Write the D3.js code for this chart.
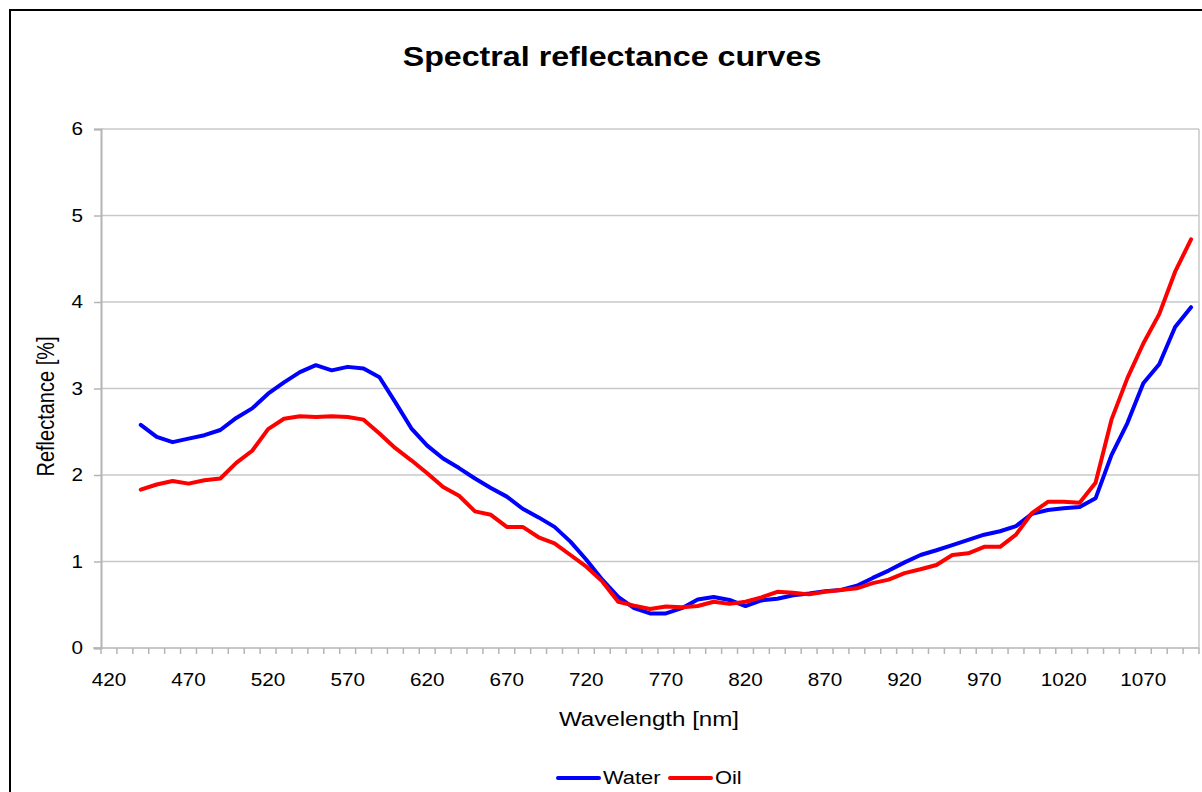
<!DOCTYPE html>
<html>
<head>
<meta charset="utf-8">
<script src="https://cdn.jsdelivr.net/npm/d3@7"></script>
<style>
  body { margin: 0; background: #fff; }
  svg { display: block; font-family: "Liberation Sans", Arial, sans-serif; }
</style>
</head>
<body>
<div class="chart"></div>
<script>
// category axis (wavelength, nm)
const categories = [420, 430, 440, 450, 460, 470, 480, 490, 500, 510, 520, 530, 540, 550, 560, 570, 580, 590,
    600, 610, 620, 630, 640, 650, 660, 670, 680, 690, 700, 710, 720, 730, 740, 750, 760, 770, 780, 790,
    800, 810, 820, 830, 840, 850, 860, 870, 880, 890, 900, 910, 920, 930, 940, 950, 960, 970, 980, 990,
    1000, 1010, 1020, 1030, 1040, 1050, 1060, 1070, 1080, 1090, 1100];
const xTickLabels = [420, 470, 520, 570, 620, 670, 720, 770, 820, 870, 920, 970, 1020, 1070];
const yTicks = [0, 1, 2, 3, 4, 5, 6];

// measured wavelengths
const wavelength = [440, 450, 460, 470, 480, 490, 500, 510, 520, 530, 540, 550, 560, 570, 580, 590,
    600, 610, 620, 630, 640, 650, 660, 670, 680, 690, 700, 710, 720, 730, 740, 750, 760, 770, 780, 790,
    800, 810, 820, 830, 840, 850, 860, 870, 880, 890, 900, 910, 920, 930, 940, 950, 960, 970, 980, 990,
    1000, 1010, 1020, 1030, 1040, 1050, 1060, 1070, 1080, 1090, 1100];

const water = [2.58, 2.44, 2.38, 2.42, 2.46, 2.52, 2.66, 2.77, 2.94, 3.07, 3.19, 3.27, 3.21, 3.25, 3.23, 3.13,
    2.84, 2.54, 2.34, 2.19, 2.08, 1.96, 1.85, 1.75, 1.61, 1.51, 1.40, 1.23, 1.02, 0.79, 0.59, 0.46, 0.40, 0.40, 0.46, 0.56,
    0.59, 0.555, 0.485, 0.55, 0.57, 0.61, 0.63, 0.655, 0.67, 0.72, 0.81, 0.895, 0.99, 1.075, 1.13, 1.19, 1.25, 1.31, 1.35, 1.41,
    1.55, 1.595, 1.615, 1.63, 1.73, 2.23, 2.60, 3.06, 3.28, 3.71, 3.94];

const oil = [1.83, 1.89, 1.93, 1.90, 1.94, 1.96, 2.14, 2.28, 2.53, 2.65, 2.68, 2.67, 2.68, 2.67, 2.64, 2.48,
    2.31, 2.17, 2.02, 1.86, 1.76, 1.58, 1.54, 1.40, 1.40, 1.28, 1.21, 1.075, 0.94, 0.77, 0.535, 0.49, 0.45, 0.48, 0.47, 0.485,
    0.535, 0.51, 0.535, 0.585, 0.65, 0.64, 0.62, 0.65, 0.67, 0.69, 0.75, 0.79, 0.865, 0.91, 0.96, 1.075, 1.095, 1.17, 1.17, 1.31,
    1.56, 1.69, 1.69, 1.68, 1.91, 2.64, 3.12, 3.52, 3.86, 4.35, 4.725];

const seriesNames = ["Water", "Oil"];
const seriesColors = ["#0000ff", "#ff0000"];

const W = 1202, H = 792;
const plot = {left: 101, right: 1199, top: 129, bottom: 648};
// the original picture is a little wider than tall, text looks stretched
const sx = 1.15;

const svg = d3.select(".chart").append("svg")
    .attr("width", W)
    .attr("height", H);

// outer chart frame
svg.append("rect")
    .attr("x", 10).attr("y", 10)
    .attr("width", W + 20).attr("height", H + 20)
    .attr("fill", "#fff")
    .attr("stroke", "#000")
    .attr("stroke-width", 2);

const x = d3.scaleBand()
    .domain(categories)
    .range([plot.left, plot.right])
    .padding(0);

const y = d3.scaleLinear()
    .domain([0, 6])
    .range([plot.bottom, plot.top]);

// horizontal gridlines
svg.append("g")
    .selectAll("line")
    .data(yTicks.filter(d => d > 0))
    .join("line")
    .attr("x1", plot.left).attr("x2", plot.right)
    .attr("y1", d => y(d)).attr("y2", d => y(d))
    .attr("stroke", "#c8c8c8")
    .attr("stroke-width", 1.5);

// right border of plot area
svg.append("line")
    .attr("x1", plot.right).attr("x2", plot.right)
    .attr("y1", plot.top).attr("y2", plot.bottom)
    .attr("stroke", "#c8c8c8")
    .attr("stroke-width", 1.5);

// y axis
const yAxis = d3.axisLeft(y).tickValues(yTicks).tickSize(7).tickPadding(11).tickFormat(d3.format("d"));
svg.append("g")
    .attr("transform", `translate(${plot.left},0)`)
    .call(yAxis)
    .call(g => g.select(".domain").attr("stroke", "#b4b4b4").attr("stroke-width", 2))
    .call(g => g.selectAll(".tick line").attr("stroke", "#b4b4b4").attr("stroke-width", 1.5))
    .call(g => g.selectAll(".tick text")
        .attr("font-size", 18)
        .attr("font-family", "Liberation Sans, Arial, sans-serif")
        .attr("fill", "#000")
        .call(stretch));

// x axis: line, tick marks at category boundaries, labels every 5th category
const xg = svg.append("g");
xg.append("line")
    .attr("x1", plot.left - 8).attr("x2", plot.right)
    .attr("y1", plot.bottom).attr("y2", plot.bottom)
    .attr("stroke", "#b4b4b4")
    .attr("stroke-width", 1.5);

xg.selectAll(".xtick")
    .data(categories.concat(["end"]))
    .join("line")
    .attr("class", "xtick")
    .attr("x1", d => d === "end" ? plot.right : x(d))
    .attr("x2", d => d === "end" ? plot.right : x(d))
    .attr("y1", plot.bottom)
    .attr("y2", plot.bottom + 6)
    .attr("stroke", "#b4b4b4")
    .attr("stroke-width", 1.5);

xg.selectAll(".xlabel")
    .data(xTickLabels)
    .join("text")
    .attr("class", "xlabel")
    .attr("x", d => x(d) + x.bandwidth() / 2)
    .attr("y", plot.bottom + 38)
    .attr("text-anchor", "middle")
    .attr("font-size", 18)
    .attr("fill", "#000")
    .text(d => d)
    .call(stretch);

// lines
const series = [water, oil];
const line = d3.line()
    .x((d, i) => x(wavelength[i]) + x.bandwidth() / 2)
    .y(d => y(d));

svg.append("g")
    .selectAll("path")
    .data(series)
    .join("path")
    .attr("fill", "none")
    .attr("stroke", (d, i) => seriesColors[i])
    .attr("stroke-width", 4)
    .attr("stroke-linejoin", "round")
    .attr("stroke-linecap", "round")
    .attr("d", line);

// title
svg.append("text")
    .attr("x", 612)
    .attr("y", 66)
    .attr("text-anchor", "middle")
    .attr("font-size", 28)
    .attr("font-weight", "bold")
    .text("Spectral reflectance curves")
    .call(stretch);

// axis titles
svg.append("text")
    .attr("x", 649)
    .attr("y", 726)
    .attr("text-anchor", "middle")
    .attr("font-size", 21)
    .text("Wavelength [nm]")
    .call(stretch);

svg.append("text")
    .attr("transform", `translate(54, ${(plot.top + plot.bottom) / 2 + 18}) scale(${sx},1) rotate(-90)`)
    .attr("text-anchor", "middle")
    .attr("font-size", 20)
    .text("Reflectance [%]");

// legend
const legendX = [558, 670];
const legend = svg.append("g")
    .selectAll("g")
    .data(seriesNames)
    .join("g")
    .attr("transform", (d, i) => `translate(${legendX[i]}, 778)`);

legend.append("line")
    .attr("x1", 0).attr("x2", 41)
    .attr("stroke", (d, i) => seriesColors[i])
    .attr("stroke-width", 4)
    .attr("stroke-linecap", "round");

legend.append("text")
    .attr("x", 45)
    .attr("y", 6)
    .attr("font-size", 19)
    .text(d => d)
    .call(stretch);

// widen text horizontally around its anchor point
function stretch(text) {
    text.attr("transform", function() {
        const t = d3.select(this);
        const tx = +t.attr("x") || 0;
        return `translate(${tx},0) scale(${sx},1) translate(${-tx},0)`;
    });
}
</script>
</body>
</html>
